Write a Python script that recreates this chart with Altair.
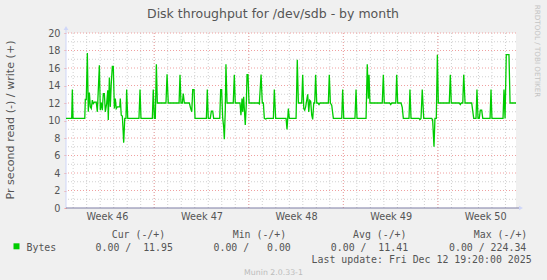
import json
import altair as alt
import pandas as pd

# ---------------- data ----------------
# time in days since 2025-11-09 00:00 UTC, value in bytes per second (write, +)
days = [0.47, 0.89, 0.94, 0.99, 1.86, 1.90, 1.97, 2.05, 2.12, 2.20, 2.27, 2.34, 2.42, 2.49, 2.57,
        2.71, 2.79, 2.94, 3.01, 3.08, 3.16, 3.23, 3.31, 3.38, 3.48, 3.56, 3.60, 3.68, 3.75, 3.82,
        3.90, 3.97, 4.05, 4.12, 4.19, 4.27, 4.37, 4.45, 4.49, 4.56, 4.64, 4.69, 4.74, 4.82, 4.91,
        4.96, 5.04, 5.87, 5.95, 6.02, 6.86, 6.93, 7.01, 7.08, 7.16, 7.23, 7.87, 7.95, 8.04, 8.84,
        8.91, 8.98, 9.08, 9.15, 9.23, 9.60, 9.70, 9.78, 9.85, 9.95, 10.02, 10.86, 10.93, 11.00, 11.15,
        11.23, 11.33, 11.40, 11.85, 11.92, 11.99, 12.07, 12.14, 12.19, 12.26, 12.31, 12.39, 12.85, 12.93,
        13.00, 13.35, 13.42, 13.50, 13.55, 13.62, 13.67, 13.74, 13.82, 13.87, 13.94, 14.02, 14.71, 14.78,
        14.91, 15.00, 15.08, 15.15, 15.25, 15.33, 15.82, 15.89, 15.99, 16.76, 16.83, 16.93, 17.00, 17.50,
        17.59, 17.67, 17.92, 17.99, 18.07, 18.14, 18.21, 18.29, 18.36, 18.44, 18.51, 18.58, 18.66, 18.73,
        18.81, 18.88, 18.95, 19.03, 19.12, 19.20, 19.27, 19.89, 19.96, 20.04, 20.14, 20.26, 20.88, 20.95,
        21.03, 21.86, 21.94, 22.01, 22.68, 22.77, 22.85, 22.90, 22.97, 23.88, 23.96, 24.03, 24.43, 24.51,
        24.58, 24.88, 24.95, 25.02, 25.27, 25.36, 25.44, 25.86, 25.93, 26.01, 26.60, 26.67, 26.75, 26.84,
        26.95, 27.54, 27.61, 27.71, 27.78, 27.88, 27.96, 28.03, 28.84, 28.92, 28.99, 29.58, 29.66, 29.73,
        29.84, 29.91, 30.01, 30.50, 30.65, 30.82, 30.89, 30.97, 31.06, 31.14, 31.24, 31.32, 31.86, 31.93,
        32.00, 32.82, 32.89, 32.97, 33.06, 33.26, 33.34, 33.78]
write_bps = [10.24, 10.24, 13.53, 10.24, 10.24, 12.40, 12.40, 17.71, 10.99, 13.19, 11.56, 11.37, 12.32, 11.94, 12.09,
             12.09, 10.99, 16.30, 11.18, 12.06, 11.18, 13.08, 13.08, 10.99, 11.94, 13.46, 10.05, 14.90, 11.56, 14.22,
             16.19, 16.19, 11.37, 12.51, 11.37, 11.56, 11.56, 11.56, 12.51, 10.61, 10.50, 9.10, 7.47, 10.24, 10.24,
             13.53, 10.24, 10.24, 13.53, 10.24, 10.24, 13.53, 10.24, 10.24, 16.42, 12.00, 12.00, 15.28, 12.00, 12.00,
             15.24, 12.00, 12.00, 13.08, 12.00, 12.00, 11.37, 10.99, 13.53, 13.53, 10.24, 10.24, 13.53, 10.24, 10.24,
             11.07, 11.07, 10.24, 10.24, 13.53, 13.53, 10.24, 9.29, 7.85, 11.18, 16.42, 12.00, 12.00, 15.24,
             12.00, 12.00, 10.61, 12.51, 10.99, 12.70, 11.37, 9.48, 12.00, 15.24, 15.24, 12.00, 12.00, 11.90,
             15.24, 12.00, 12.00, 10.24, 10.17, 10.24, 10.24, 13.53, 10.24, 10.24, 8.98, 11.37, 10.24, 10.24,
             16.95, 12.00, 12.00, 15.24, 11.37, 11.18, 11.56, 12.32, 13.00, 10.99, 12.32, 12.20, 10.61, 10.12,
             12.00, 12.00, 15.24, 12.00, 12.00, 11.83, 12.00, 12.00, 15.24, 12.00, 11.75, 10.24, 10.24, 13.53,
             10.24, 10.24, 13.53, 10.24, 10.24, 16.42, 12.50, 15.24, 12.00, 12.00, 15.24, 12.00, 12.00, 11.83,
             12.00, 12.00, 15.24, 12.00, 12.00, 11.50, 10.24, 10.24, 13.53, 10.24, 10.24, 10.12, 10.24, 13.53,
             10.24, 10.24, 10.05, 7.01, 10.24, 10.24, 17.52, 12.00, 12.00, 15.24, 12.00, 12.00, 11.83, 12.00,
             12.00, 15.24, 12.00, 12.00, 10.24, 10.24, 13.53, 10.24, 10.24, 11.18, 11.18, 10.24, 10.24, 13.53,
             10.24, 10.24, 13.53, 10.24, 17.52, 17.52, 12.00, 12.00]

x_domain_days = [0.47, 33.78]
week_label_days = [3.5, 10.5, 17.5, 24.5, 31.5]
week_labels = ["Week 46", "Week 47", "Week 48", "Week 49", "Week 50"]
day_grid = list(range(1, 34))
week_grid = [7, 14, 21, 28]
y_ticks = list(range(0, 21, 2))
y_minor = list(range(1, 20, 2))

title_text = "Disk throughput for /dev/sdb - by month"
y_title = "Pr second read (-) / write (+)"
side_text = "RRDTOOL / TOBI OETIKER"
legend_name = "Bytes"
legend_headers = ["Cur (-/+)", "Min (-/+)", "Avg (-/+)", "Max (-/+)"]
legend_values = ["0.00 /  11.95", "0.00 /   0.00", "0.00 /  11.41", "0.00 / 224.34"]
last_update = "Last update: Fri Dec 12 19:20:00 2025"
footer = "Munin 2.0.33-1"

# ---------------- helpers ----------------
BASE = pd.Timestamp("2025-11-09")


def iso(d):
    return (BASE + pd.to_timedelta(d, unit="D")).strftime("%Y-%m-%dT%H:%M:%SZ")


def ms(d):
    return int((BASE + pd.to_timedelta(d, unit="D")).value // 10**6)


W, H = 450, 175
OX, OY = 66, 33
FONT = "DejaVu Sans"
MONO = "DejaVu Sans Mono"
TXT = "#555555"

xscale = alt.Scale(type="utc", domain=[ms(x_domain_days[0]), ms(x_domain_days[1])])
yscale = alt.Scale(domain=[0, 20], nice=False, zero=True)

label_expr = (json.dumps(week_labels) +
              f"[floor((datum.value - {ms(0)}) / 604800000)]")

x_axis = alt.Axis(values=[ms(d) for d in week_label_days], labelExpr=label_expr,
                  grid=False, ticks=False, domain=False, title=None,
                  labelFont=FONT, labelFontSize=9.7, labelColor=TXT,
                  labelPadding=3, labelFlush=False, labelOverlap=False)
y_axis = alt.Axis(values=y_ticks, grid=False, domain=False, title=None,
                  tickSize=2, tickColor="#F0A0A0", labelPadding=4,
                  labelFont=FONT, labelFontSize=9.7, labelColor=TXT,
                  labelFlush=False, labelOverlap=False)

df = pd.DataFrame({"t": [iso(d) for d in days], "v": write_bps})

line = alt.Chart(df).mark_line(color="#00CC00", strokeWidth=1.3, interpolate="linear").encode(
    x=alt.X("t:T", scale=xscale, axis=x_axis),
    y=alt.Y("v:Q", scale=yscale, axis=y_axis),
)

minor_v = alt.Chart(pd.DataFrame({"t": [iso(d) for d in day_grid]})).mark_rule(
    color="#D0D0D0", strokeDash=[1, 2], strokeWidth=1).encode(
    x=alt.X("t:T", scale=xscale, axis=x_axis))
major_v = alt.Chart(pd.DataFrame({"t": [iso(d) for d in week_grid]})).mark_rule(
    color="#F0A0A0", strokeDash=[1, 2], strokeWidth=1).encode(
    x=alt.X("t:T", scale=xscale, axis=x_axis))
minor_h = alt.Chart(pd.DataFrame({"v": y_minor})).mark_rule(
    color="#D0D0D0", strokeDash=[1, 2], strokeWidth=1).encode(
    y=alt.Y("v:Q", scale=yscale, axis=y_axis))
major_h = alt.Chart(pd.DataFrame({"v": y_ticks[1:]})).mark_rule(
    color="#F0A0A0", strokeDash=[1, 2], strokeWidth=1).encode(
    y=alt.Y("v:Q", scale=yscale, axis=y_axis))

one = pd.DataFrame({"k": [0]})
y_axis_line = alt.Chart(one).mark_rule(color="#CFD6F8", strokeWidth=1).encode(
    x=alt.value(0), y=alt.value(-5), y2=alt.value(H))
x_axis_line = alt.Chart(one).mark_rule(color="#7C7CA4", strokeWidth=1).encode(
    x=alt.value(0), x2=alt.value(W + 5), y=alt.value(H))
arrow_up = alt.Chart(one).mark_point(shape="triangle-up", filled=True, color="#CFD6F8",
                                     size=22, opacity=1).encode(
    x=alt.value(0), y=alt.value(-5))
arrow_right = alt.Chart(one).mark_point(shape="triangle-right", filled=True, color="#CFD6F8",
                                        size=22, opacity=1).encode(
    x=alt.value(W + 5), y=alt.value(H))


def text(s, x, y, size, font=FONT, color=TXT, align="left", angle=0):
    s = s.replace(" ", "\u00a0")  # keep the fixed-width spacing of the legend
    return alt.Chart(pd.DataFrame({"s": [s]})).mark_text(
        font=font, fontSize=size, color=color, align=align, baseline="middle", angle=angle
    ).encode(x=alt.value(x - OX), y=alt.value(y - OY), text="s:N")


texts = [
    text(title_text, 273, 14, 12.5, align="center"),
    text(y_title, 11, 120, 11.1, align="center", angle=270),
    text(side_text, 537, 51, 7.2, color="#C4C4C4", align="center", angle=90),
    text(legend_name, 26.5, 247.5, 9.9, font=MONO),
    text(last_update, 311.6, 260.4, 9.9, font=MONO),
    text(footer, 273.5, 272.6, 7.8, color="#BBBBBB", align="center"),
]
for s, xx in zip(legend_headers, [111.7, 232.7, 353.0, 473.8]):
    texts.append(text(s, xx, 235.0, 9.9, font=MONO))
for s, xx in zip(legend_values, [95.6, 213.5, 330.8, 449.0]):
    texts.append(text(s, xx, 247.5, 9.9, font=MONO))

swatch = alt.Chart(one).mark_square(color="#00CC00", size=36, opacity=1).encode(
    x=alt.value(16.5 - OX), y=alt.value(246.3 - OY))

chart = alt.layer(
    minor_v, minor_h, major_v, major_h, y_axis_line, x_axis_line, line,
    arrow_up, arrow_right, swatch, *texts
).properties(
    width=W, height=H,
    padding={"left": OX, "top": OY, "right": 547 - OX - W, "bottom": 280 - OY - H},
    autosize=alt.AutoSizeParams(type="none"),
    background="#F0F0F0",
).configure_view(fill="white", stroke=None)

chart.save("out.html", embed_options={"renderer": "svg", "actions": False})
